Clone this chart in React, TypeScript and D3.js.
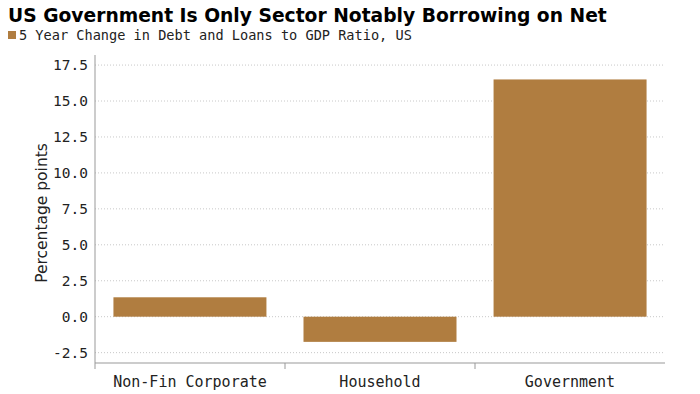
import React from "react";
import * as d3 from "d3";

const categories = ["Non-Fin Corporate", "Household", "Government"];
const values = [1.35, -1.75, 16.5];
const yTicks = [-2.5, 0, 2.5, 5, 7.5, 10, 12.5, 15, 17.5];
const title = "US Government Is Only Sector Notably Borrowing on Net";
const legendLabel = "5 Year Change in Debt and Loans to GDP Ratio, US";
const yAxisTitle = "Percentage points";

const W = 700;
const H = 394;
const M = { left: 95, right: 35, top: 55, bottom: 31 };
const color = "#B07D40";
const mono = "'DejaVu Sans Mono', monospace";

export default function App() {
  const x = d3
    .scaleBand<string>()
    .domain(categories)
    .range([M.left, W - M.right])
    .paddingInner(0.195)
    .paddingOuter(0.097);
  const xOuter = d3.scaleBand<string>().domain(categories).range([M.left, W - M.right]);
  const y = d3.scaleLinear().domain([-3.22, 18.2]).range([H - M.bottom, M.top]);
  const bottom = H - M.bottom;

  return (
    <svg width={W} height={H} style={{ position: "absolute", left: 0, top: 0, background: "#fff" }}>
      <text x={8} y={22} fontFamily="'DejaVu Sans', sans-serif" fontWeight="bold" fontSize={18.7} fill="#000">
        {title}
      </text>
      <rect x={8} y={31} width={8} height={8} fill={color} />
      <text x={19} y={40} fontFamily={mono} fontSize={13.6} fill="#222">
        {legendLabel}
      </text>

      {yTicks.map((t) => (
        <g key={t}>
          <line
            x1={M.left}
            x2={W - M.right}
            y1={y(t)}
            y2={y(t)}
            stroke="#c8c8c8"
            strokeWidth={1}
            strokeDasharray="1,2"
          />
          <text
            x={M.left - 7}
            y={y(t)}
            dy="0.35em"
            textAnchor="end"
            fontFamily={mono}
            fontSize={14.5}
            fill="#222"
          >
            {t.toFixed(1)}
          </text>
        </g>
      ))}

      {categories.map((c, i) => {
        const v = values[i];
        return (
          <rect
            key={c}
            x={x(c)}
            width={x.bandwidth()}
            y={y(Math.max(0, v))}
            height={Math.abs(y(v) - y(0))}
            fill={color}
          />
        );
      })}

      <line x1={M.left} x2={M.left} y1={M.top} y2={bottom} stroke="#999" />
      <line x1={M.left} x2={W - M.right} y1={bottom} y2={bottom} stroke="#999" />
      {categories.slice(1).map((c) => (
        <line key={c} x1={xOuter(c)} x2={xOuter(c)} y1={bottom} y2={bottom + 6} stroke="#999" />
      ))}
      <line x1={M.left} x2={M.left} y1={bottom} y2={bottom + 6} stroke="#999" />

      {categories.map((c) => (
        <text
          key={c}
          x={(xOuter(c) as number) + xOuter.bandwidth() / 2}
          y={bottom + 24}
          textAnchor="middle"
          fontFamily={mono}
          fontSize={15}
          fill="#222"
        >
          {c}
        </text>
      ))}

      <text
        transform={`translate(47, ${(M.top + bottom) / 2 + 4}) rotate(-90)`}
        textAnchor="middle"
        fontFamily="'DejaVu Sans', sans-serif"
        fontSize={15.5}
        fill="#222"
      >
        {yAxisTitle}
      </text>
    </svg>
  );
}
